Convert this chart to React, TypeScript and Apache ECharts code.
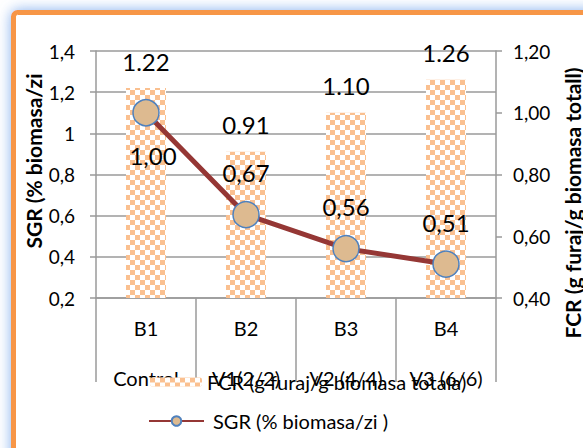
import React, { useEffect, useRef } from "react";
import * as echarts from "echarts";

const catTop = ["B1", "B2", "B3", "B4"];
const catBottom = ["Control", "V1(2/2)", "V2 (4/4)", "V3 (6/6)"];
const fcrValues = [1.22, 0.91, 1.1, 1.26];
const sgrValues = [1.0, 0.67, 0.56, 0.51];
const fcrName = "FCR (g furaj/g biomasa totala)";
const sgrName = "SGR (% biomasa/zi )";
const leftTitle = "SGR (% biomasa/zi";
const rightTitle = "FCR (g furaj/g biomasa totall)";

const FONT = "Lato, 'Open Sans', sans-serif";

export default function App() {
  const ref = useRef<HTMLDivElement>(null);
  useEffect(() => {
    if (!ref.current) return;
    const chart = echarts.init(ref.current, undefined, { renderer: "svg" });
    const decal = {
      symbol: "rect",
      symbolSize: 1,
      color: "#ffffff",
      dashArrayX: [
        [5, 5],
        [0, 5, 5, 0],
      ],
      dashArrayY: [5, 0],
      rotation: 0,
    };
    const sgrData = sgrValues.map((v, i) => ({
      value: v,
      label:
        i === 0
          ? { position: "bottom", distance: 17, offset: [7, 0] }
          : { position: "top", distance: 16 },
    }));
    chart.setOption({
      animation: false,
      backgroundColor: "#ffffff",
      textStyle: { fontFamily: FONT },
      graphic: [
        {
          type: "rect",
          z: -10,
          silent: true,
          shape: { x: 13.5, y: 12.5, width: 620, height: 520, r: 4 },
          style: {
            fill: "#ffffff",
            stroke: "#F79646",
            lineWidth: 5,
            shadowBlur: 14,
            shadowColor: "rgba(110,160,235,0.85)",
          },
        },
        {
          type: "text",
          x: 33,
          y: 161,
          rotation: Math.PI / 2,
          style: {
            text: leftTitle,
            fontSize: 21,
            fontWeight: "bold",
            fontFamily: FONT,
            fill: "#000",
            align: "center",
            verticalAlign: "middle",
          },
        },
        {
          type: "text",
          x: 572,
          y: 203,
          rotation: Math.PI / 2,
          style: {
            text: rightTitle,
            fontSize: 21,
            fontWeight: "bold",
            fontFamily: FONT,
            fill: "#000",
            align: "center",
            verticalAlign: "middle",
          },
        },
      ],
      grid: { left: 96, right: 87, top: 51, bottom: 150 },
      legend: [
        {
          data: [fcrName],
          left: 150,
          top: 372,
          padding: 0,
          itemWidth: 52,
          itemHeight: 9,
          textStyle: { fontSize: 20, color: "#000", fontFamily: FONT },
        },
        {
          data: [sgrName],
          left: 148,
          top: 411,
          padding: 0,
          itemWidth: 55,
          itemHeight: 12,
          textStyle: {
            fontSize: 20,
            color: "#000",
            fontFamily: FONT,
            padding: [0, 0, 0, 4],
          },
        },
      ],
      xAxis: {
        type: "category",
        data: catTop.map((t, i) => `${t}\n\n${catBottom[i]}`),
        axisLine: { lineStyle: { color: "#9a9a9a", width: 1.5 } },
        axisTick: {
          show: true,
          interval: 0,
          length: 84,
          lineStyle: { color: "#9a9a9a", width: 1.5 },
        },
        axisLabel: {
          interval: 0,
          margin: 17,
          lineHeight: 25,
          fontSize: 20,
          color: "#000",
          fontFamily: FONT,
        },
      },
      yAxis: [
        {
          type: "value",
          min: 0.2,
          max: 1.4,
          interval: 0.2,
          axisLine: { show: true, lineStyle: { color: "#9a9a9a", width: 1.5 } },
          axisTick: { show: true, length: 6, lineStyle: { color: "#9a9a9a", width: 1.5 } },
          splitLine: { show: true, lineStyle: { color: "#9a9a9a", width: 1.5 } },
          axisLabel: {
            margin: 21,
            fontSize: 19,
            color: "#000",
            fontFamily: FONT,
            formatter: (v: number) => String(+v.toFixed(1)).replace(".", ","),
          },
        },
        {
          type: "value",
          position: "right",
          min: 0.4,
          max: 1.2,
          interval: 0.2,
          axisLine: { show: true, lineStyle: { color: "#9a9a9a", width: 1.5 } },
          axisTick: { show: true, length: 6, lineStyle: { color: "#9a9a9a", width: 1.5 } },
          splitLine: { show: false },
          axisLabel: {
            margin: 17,
            fontSize: 19,
            color: "#000",
            fontFamily: FONT,
            formatter: (v: number) => v.toFixed(2).replace(".", ","),
          },
        },
      ],
      series: [
        {
          name: fcrName,
          type: "bar",
          yAxisIndex: 0,
          barWidth: 40,
          data: fcrValues,
          itemStyle: { color: "#FAC090", decal },
          label: {
            show: true,
            position: "top",
            distance: 15,
            fontSize: 24,
            color: "#000",
            fontFamily: FONT,
            formatter: (p: any) => Number(p.value).toFixed(2),
          },
        },
        {
          name: sgrName,
          type: "line",
          yAxisIndex: 1,
          data: sgrData,
          symbol: "circle",
          symbolSize: 26,
          lineStyle: { color: "#953735", width: 5 },
          itemStyle: { color: "#DDBA90", borderColor: "#4F81BD", borderWidth: 1.5 },
          label: {
            show: true,
            fontSize: 24,
            color: "#000",
            fontFamily: FONT,
            formatter: (p: any) => Number(p.value).toFixed(2).replace(".", ","),
          },
          z: 5,
        },
      ],
    });
    return () => chart.dispose();
  }, []);
  return (
    <div
      ref={ref}
      style={{ position: "fixed", left: 0, top: 0, width: 583, height: 448 }}
    />
  );
}
